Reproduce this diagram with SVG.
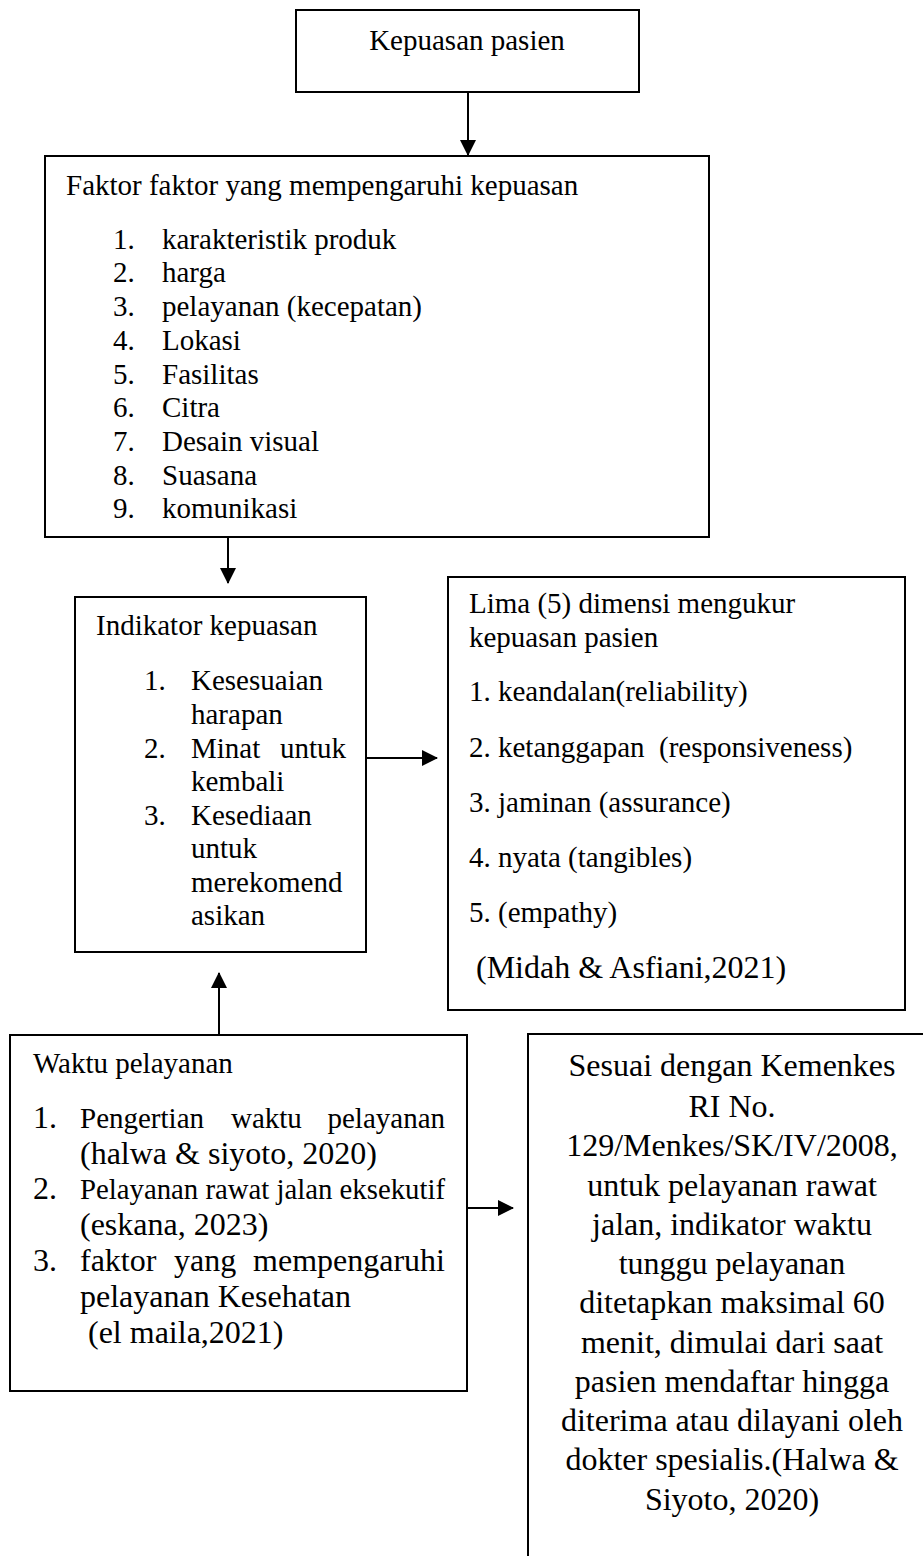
<svg xmlns="http://www.w3.org/2000/svg" width="923" height="1556" viewBox="0 0 923 1556">
<style>
.box{fill:#fff;stroke:#000;stroke-width:2}
.t{font-family:"Liberation Serif","Times New Roman",serif;font-size:29px;fill:#000}
.b{font-size:32px}
.c{text-anchor:middle}
.e{text-anchor:end}
.ln{stroke:#000;stroke-width:2;fill:none}
</style>
<defs>
<marker id="ah" markerUnits="userSpaceOnUse" markerWidth="16" markerHeight="16" viewBox="0 0 16 16" refX="15" refY="8" orient="auto">
<path d="M0,0 L16,8 L0,16 Z" fill="#000"/>
</marker>
</defs>
<rect width="923" height="1556" fill="#fff"/>
<g id="connectors">
<line class="ln" x1="468" y1="92" x2="468" y2="155" marker-end="url(#ah)"/>
<line class="ln" x1="228" y1="537" x2="228" y2="583" marker-end="url(#ah)"/>
<line class="ln" x1="366" y1="758" x2="437" y2="758" marker-end="url(#ah)"/>
<line class="ln" x1="219" y1="1035" x2="219" y2="973" marker-end="url(#ah)"/>
<line class="ln" x1="468" y1="1208" x2="513" y2="1208" marker-end="url(#ah)"/>
</g>
<g id="kepuasan-pasien">
<rect class="box" x="296" y="10" width="343" height="82"/>
<text class="t c" x="467" y="50">Kepuasan pasien</text>
</g>
<g id="faktor">
<rect class="box" x="45" y="156" width="664" height="381"/>
<text class="t" x="66" y="195">Faktor faktor yang mempengaruhi kepuasan</text>
<text class="t" x="113" y="249">1.</text><text class="t" x="162" y="249">karakteristik produk</text>
<text class="t" x="113" y="282">2.</text><text class="t" x="162" y="282">harga</text>
<text class="t" x="113" y="316">3.</text><text class="t" x="162" y="316">pelayanan (kecepatan)</text>
<text class="t" x="113" y="350">4.</text><text class="t" x="162" y="350">Lokasi</text>
<text class="t" x="113" y="384">5.</text><text class="t" x="162" y="384">Fasilitas</text>
<text class="t" x="113" y="417">6.</text><text class="t" x="162" y="417">Citra</text>
<text class="t" x="113" y="451">7.</text><text class="t" x="162" y="451">Desain visual</text>
<text class="t" x="113" y="485">8.</text><text class="t" x="162" y="485">Suasana</text>
<text class="t" x="113" y="518">9.</text><text class="t" x="162" y="518">komunikasi</text>
</g>
<g id="indikator">
<rect class="box" x="75" y="597" width="291" height="355"/>
<text class="t" x="96" y="635">Indikator kepuasan</text>
<text class="t" x="144" y="690">1.</text><text class="t" x="191" y="690">Kesesuaian</text>
<text class="t" x="191" y="724">harapan</text>
<text class="t" x="144" y="758">2.</text><text class="t" x="191" y="758">Minat</text><text class="t e" x="346" y="758">untuk</text>
<text class="t" x="191" y="791">kembali</text>
<text class="t" x="144" y="825">3.</text><text class="t" x="191" y="825">Kesediaan</text>
<text class="t" x="191" y="858">untuk</text>
<text class="t" x="191" y="892">merekomend</text>
<text class="t" x="191" y="925">asikan</text>
</g>
<g id="lima-dimensi">
<rect class="box" x="448" y="577" width="457" height="433"/>
<text class="t" x="469" y="613">Lima (5) dimensi mengukur</text>
<text class="t" x="469" y="647">kepuasan pasien</text>
<text class="t" x="469" y="701">1. keandalan(reliability)</text>
<text class="t" x="469" y="757" xml:space="preserve">2. ketanggapan  (responsiveness)</text>
<text class="t" x="469" y="812">3. jaminan (assurance)</text>
<text class="t" x="469" y="867">4. nyata (tangibles)</text>
<text class="t" x="469" y="922">5. (empathy)</text>
<text class="t b" x="476" y="978">(Midah &amp; Asfiani,2021)</text>
</g>
<g id="waktu-pelayanan">
<rect class="box" x="10" y="1035" width="457" height="356"/>
<text class="t" x="33" y="1073">Waktu pelayanan</text>
<text class="t b" x="33" y="1128">1.</text>
<text class="t" x="80" y="1128">Pengertian</text><text class="t" x="231" y="1128">waktu</text><text class="t e" x="445" y="1128">pelayanan</text>
<text class="t b" x="80" y="1164">(halwa &amp; siyoto, 2020)</text>
<text class="t b" x="33" y="1199">2.</text>
<text class="t" x="80" y="1199" textLength="365" lengthAdjust="spacingAndGlyphs">Pelayanan rawat jalan eksekutif</text>
<text class="t b" x="80" y="1235">(eskana, 2023)</text>
<text class="t b" x="33" y="1271">3.</text>
<text class="t b" x="80" y="1271">faktor</text><text class="t b" x="174" y="1271">yang</text><text class="t b e" x="445" y="1271">mempengaruhi</text>
<text class="t b" x="80" y="1307">pelayanan Kesehatan</text>
<text class="t b" x="88" y="1343">(el maila,2021)</text>
</g>
<g id="kemenkes">
<path class="ln" d="M528,1560 V1034 H930"/>
<text class="t b c" x="732" y="1076">Sesuai dengan Kemenkes</text>
<text class="t b c" x="732" y="1117">RI No.</text>
<text class="t b c" x="732" y="1156">129/Menkes/SK/IV/2008,</text>
<text class="t b c" x="732" y="1196">untuk pelayanan rawat</text>
<text class="t b c" x="732" y="1235">jalan, indikator waktu</text>
<text class="t b c" x="732" y="1274">tunggu pelayanan</text>
<text class="t b c" x="732" y="1313">ditetapkan maksimal 60</text>
<text class="t b c" x="732" y="1353">menit, dimulai dari saat</text>
<text class="t b c" x="732" y="1392">pasien mendaftar hingga</text>
<text class="t b c" x="732" y="1431">diterima atau dilayani oleh</text>
<text class="t b c" x="732" y="1470">dokter spesialis.(Halwa &amp;</text>
<text class="t b c" x="732" y="1510">Siyoto, 2020)</text>
</g>
</svg>
